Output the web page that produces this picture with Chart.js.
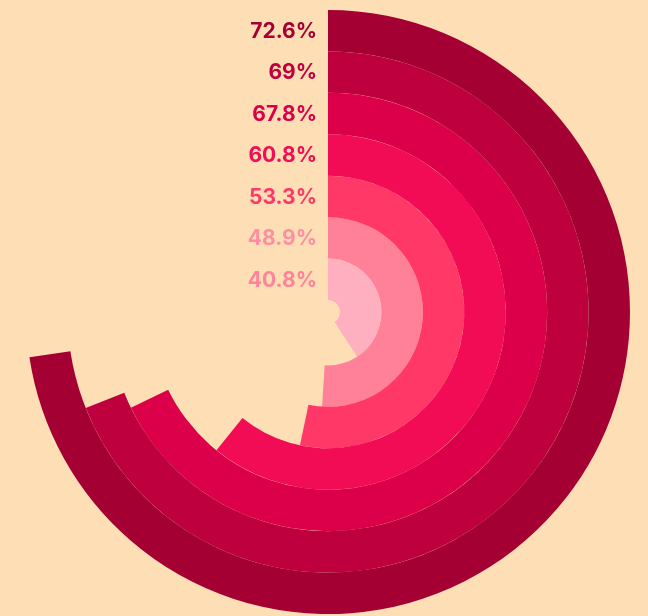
<!DOCTYPE html>
<html>
<head>
<meta charset="utf-8">
<script src="https://cdn.jsdelivr.net/npm/chart.js@4/dist/chart.umd.min.js"></script>
<style>
	html, body { margin: 0; padding: 0; background: #fedfb5; }
	#wrap { width: 648px; height: 616px; }
</style>
</head>
<body>
<div id="wrap"><canvas id="myCanvas"></canvas></div>
<script>
// outermost ring first
const labels = ['72.6%', '69%', '67.8%', '60.8%', '53.3%', '48.9%', '40.8%'];
// ring lengths as drawn in the picture (the 48.9% ring is drawn a bit longer)
const values = [72.6, 69, 67.8, 60.8, 53.3, 51, 40.8];
const ringColors = ['#a50034', '#bf003f', '#db0049', '#f20c55', '#ff3868', '#ff8099', '#ffb0c0'];
const labelColors = ['#a50034', '#bf003f', '#db0049', '#f20c55', '#ff3868', '#ff8da4', '#ff8399'];

const ringLabels = {
	id: 'ringLabels',
	afterDatasetsDraw(chart) {
		const ctx = chart.ctx;
		ctx.save();
		ctx.font = 'bold 21px Inter';
		ctx.textAlign = 'right';
		ctx.textBaseline = 'middle';
		chart.data.datasets.forEach((ds, i) => {
			const arc = chart.getDatasetMeta(i).data[0];
			const r = (arc.innerRadius + arc.outerRadius) / 2;
			ctx.fillStyle = labelColors[i];
			ctx.fillText(labels[i], arc.x - 11, arc.y - r + 1);
		});
		ctx.restore();
	}
};

const ctx = document.querySelector('#myCanvas');
const chart = new Chart(ctx, {
	type: 'doughnut',
	data: {
		labels: ['value', 'rest'],
		datasets: values.map((v, i) => ({
			data: [v, 100 - v],
			backgroundColor: [ringColors[i], 'rgba(0,0,0,0)'],
			borderWidth: 0
		}))
	},
	options: {
		responsive: true,
		maintainAspectRatio: false,
		animation: false,
		events: [],
		cutout: 12,
		layout: { padding: { left: 8, right: 0, top: 10, bottom: 2 } },
		plugins: {
			legend: { display: false },
			tooltip: { enabled: false }
		}
	},
	plugins: [ringLabels]
});
</script>
</body>
</html>
